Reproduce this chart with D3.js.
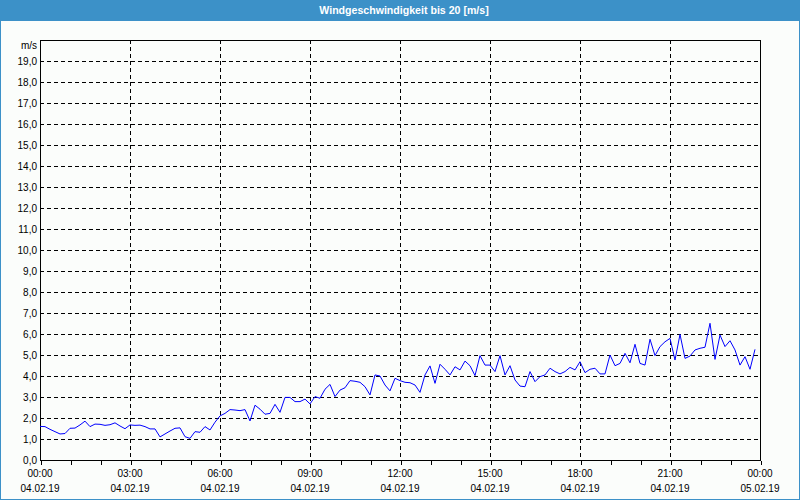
<!DOCTYPE html>
<html>
<head>
<meta charset="utf-8">
<script src="https://cdn.jsdelivr.net/npm/d3@7"></script>
<style>
  html, body { margin: 0; padding: 0; background: #fff; }
  svg { display: block; }
  text { font-family: "Liberation Sans", Arial, sans-serif; }
</style>
</head>
<body>
<svg id="chart" width="800" height="500"></svg>
<script>
// ---- data ----
const chartTitle = "Windgeschwindigkeit bis 20 [m/s]";
const unitLabel = "m/s";
const stepMinutes = 10; // one sample every 10 minutes, starting 04.02.19 00:00
const windSpeed = [
  1.60, 1.59, 1.46, 1.35, 1.24, 1.26, 1.51, 1.52, 1.67, 1.85,
  1.59, 1.71, 1.70, 1.65, 1.68, 1.77, 1.62, 1.49, 1.67, 1.65,
  1.66, 1.59, 1.48, 1.48, 1.10, 1.24, 1.38, 1.51, 1.53, 1.11,
  1.03, 1.35, 1.32, 1.59, 1.43, 1.80, 2.10, 2.22, 2.40, 2.38,
  2.35, 2.40, 1.86, 2.61, 2.42, 2.18, 2.22, 2.65, 2.27, 2.98,
  2.98, 2.78, 2.78, 2.90, 2.67, 3.02, 2.94, 3.37, 3.60, 3.02,
  3.33, 3.44, 3.78, 3.75, 3.70, 3.49, 3.10, 4.05, 4.00, 3.57,
  3.29, 3.89, 3.78, 3.70, 3.68, 3.57, 3.22, 4.05, 4.48, 3.65,
  4.56, 4.32, 4.05, 4.44, 4.29, 4.71, 4.49, 4.02, 4.97, 4.52,
  4.52, 4.21, 4.97, 4.05, 4.49, 3.81, 3.52, 3.49, 4.21, 3.73,
  3.97, 4.05, 4.37, 4.21, 4.10, 4.21, 4.41, 4.29, 4.68, 4.16,
  4.32, 4.37, 4.10, 4.10, 5.00, 4.49, 4.60, 5.08, 4.63, 5.51,
  4.60, 4.52, 5.75, 4.97, 5.40, 5.63, 5.79, 4.76, 5.98, 4.84,
  4.95, 5.24, 5.32, 5.37, 6.51, 4.79, 5.95, 5.40, 5.68, 5.24,
  4.52, 4.92, 4.32, 5.27
];
const xTickHours = [0, 3, 6, 9, 12, 15, 18, 21, 24];
const xTimeLabels = ["00:00", "03:00", "06:00", "09:00", "12:00", "15:00", "18:00", "21:00", "00:00"];
const xDateLabels = ["04.02.19", "04.02.19", "04.02.19", "04.02.19", "04.02.19", "04.02.19", "04.02.19", "04.02.19", "05.02.19"];
const yTickValues = [0, 1, 2, 3, 4, 5, 6, 7, 8, 9, 10, 11, 12, 13, 14, 15, 16, 17, 18, 19];
const yMax = 20;
const hoursSpan = 24;

// ---- layout ----
const W = 800, H = 500;
const m = { left: 40, right: 40, top: 40, bottom: 40 };
const blue = "#3c91c8";

const svg = d3.select("#chart");
const x = d3.scaleLinear().domain([0, hoursSpan]).range([m.left, W - m.right]);
const y = d3.scaleLinear().domain([0, yMax]).range([H - m.bottom, m.top]);
const deLocale = d3.formatLocale({ decimal: ",", thousands: ".", grouping: [3], currency: ["", "€"] });
const fmtY = deLocale.format(".1f");

// background + frame
svg.append("rect").attr("x", 0).attr("y", 0).attr("width", W).attr("height", H).attr("fill", "#fbfdfb");
svg.append("rect").attr("x", 0.5).attr("y", 0.5).attr("width", W - 1).attr("height", H - 1)
  .attr("fill", "none").attr("stroke", blue).attr("stroke-width", 1).attr("shape-rendering", "crispEdges");
svg.append("rect").attr("x", 0).attr("y", 0).attr("width", W).attr("height", 21).attr("fill", blue);
svg.append("text").attr("x", 404).attr("y", 14)
  .attr("text-anchor", "middle").attr("fill", "#ffffff")
  .attr("font-weight", "bold").attr("font-size", "10.6px").text(chartTitle);

// grid
const grid = svg.append("g").attr("shape-rendering", "crispEdges")
  .attr("stroke", "#000").attr("stroke-width", 1).attr("stroke-dasharray", "4,3");
grid.selectAll("line.h").data(yTickValues.filter(v => v > 0)).join("line")
  .attr("x1", x(0)).attr("x2", x(hoursSpan))
  .attr("y1", d => Math.round(y(d)) + 0.5).attr("y2", d => Math.round(y(d)) + 0.5);
grid.selectAll("line.v").data(xTickHours.filter(h => h > 0 && h < hoursSpan)).join("line")
  .attr("y1", y(yMax)).attr("y2", y(0))
  .attr("x1", d => Math.round(x(d)) + 0.5).attr("x2", d => Math.round(x(d)) + 0.5);

// x axis (hourly minor ticks)
const xAxis = d3.axisBottom(x).tickValues(d3.range(0, hoursSpan + 1, 1)).tickSize(4).tickFormat("");
const gx = svg.append("g").attr("transform", `translate(0.5,${y(0) + 0.5})`).call(xAxis);
gx.select(".domain").remove();
gx.selectAll(".tick line").attr("stroke", "#000").attr("shape-rendering", "crispEdges");

const xl = svg.append("g").attr("font-size", "10px").attr("fill", "#000").attr("text-anchor", "middle");
xl.selectAll("text.t").data(xTickHours).join("text")
  .attr("x", d => x(d)).attr("y", 477).text((d, i) => xTimeLabels[i]);
xl.selectAll("text.d").data(xTickHours).join("text")
  .attr("x", d => x(d)).attr("y", 492).text((d, i) => xDateLabels[i]);

// y labels
const yl = svg.append("g").attr("font-size", "10px").attr("fill", "#000").attr("text-anchor", "end");
yl.selectAll("text").data(yTickValues).join("text")
  .attr("x", 37).attr("y", d => y(d)).attr("dy", "0.35em").text(d => fmtY(d));
yl.append("text").attr("x", 37).attr("y", 45).attr("dy", "0.35em").text(unitLabel);

// plot frame (solid)
svg.append("rect").attr("x", x(0) + 0.5).attr("y", y(yMax) + 0.5)
  .attr("width", x(hoursSpan) - x(0)).attr("height", y(0) - y(yMax))
  .attr("fill", "none").attr("stroke", "#000").attr("stroke-width", 1).attr("shape-rendering", "crispEdges");

// series line
const line = d3.line()
  .x((d, i) => x(i * stepMinutes / 60))
  .y(d => y(d));
svg.append("path").datum(windSpeed)
  .attr("d", line)
  .attr("fill", "none").attr("stroke", "#0000ff").attr("stroke-width", 1);
</script>
</body>
</html>
